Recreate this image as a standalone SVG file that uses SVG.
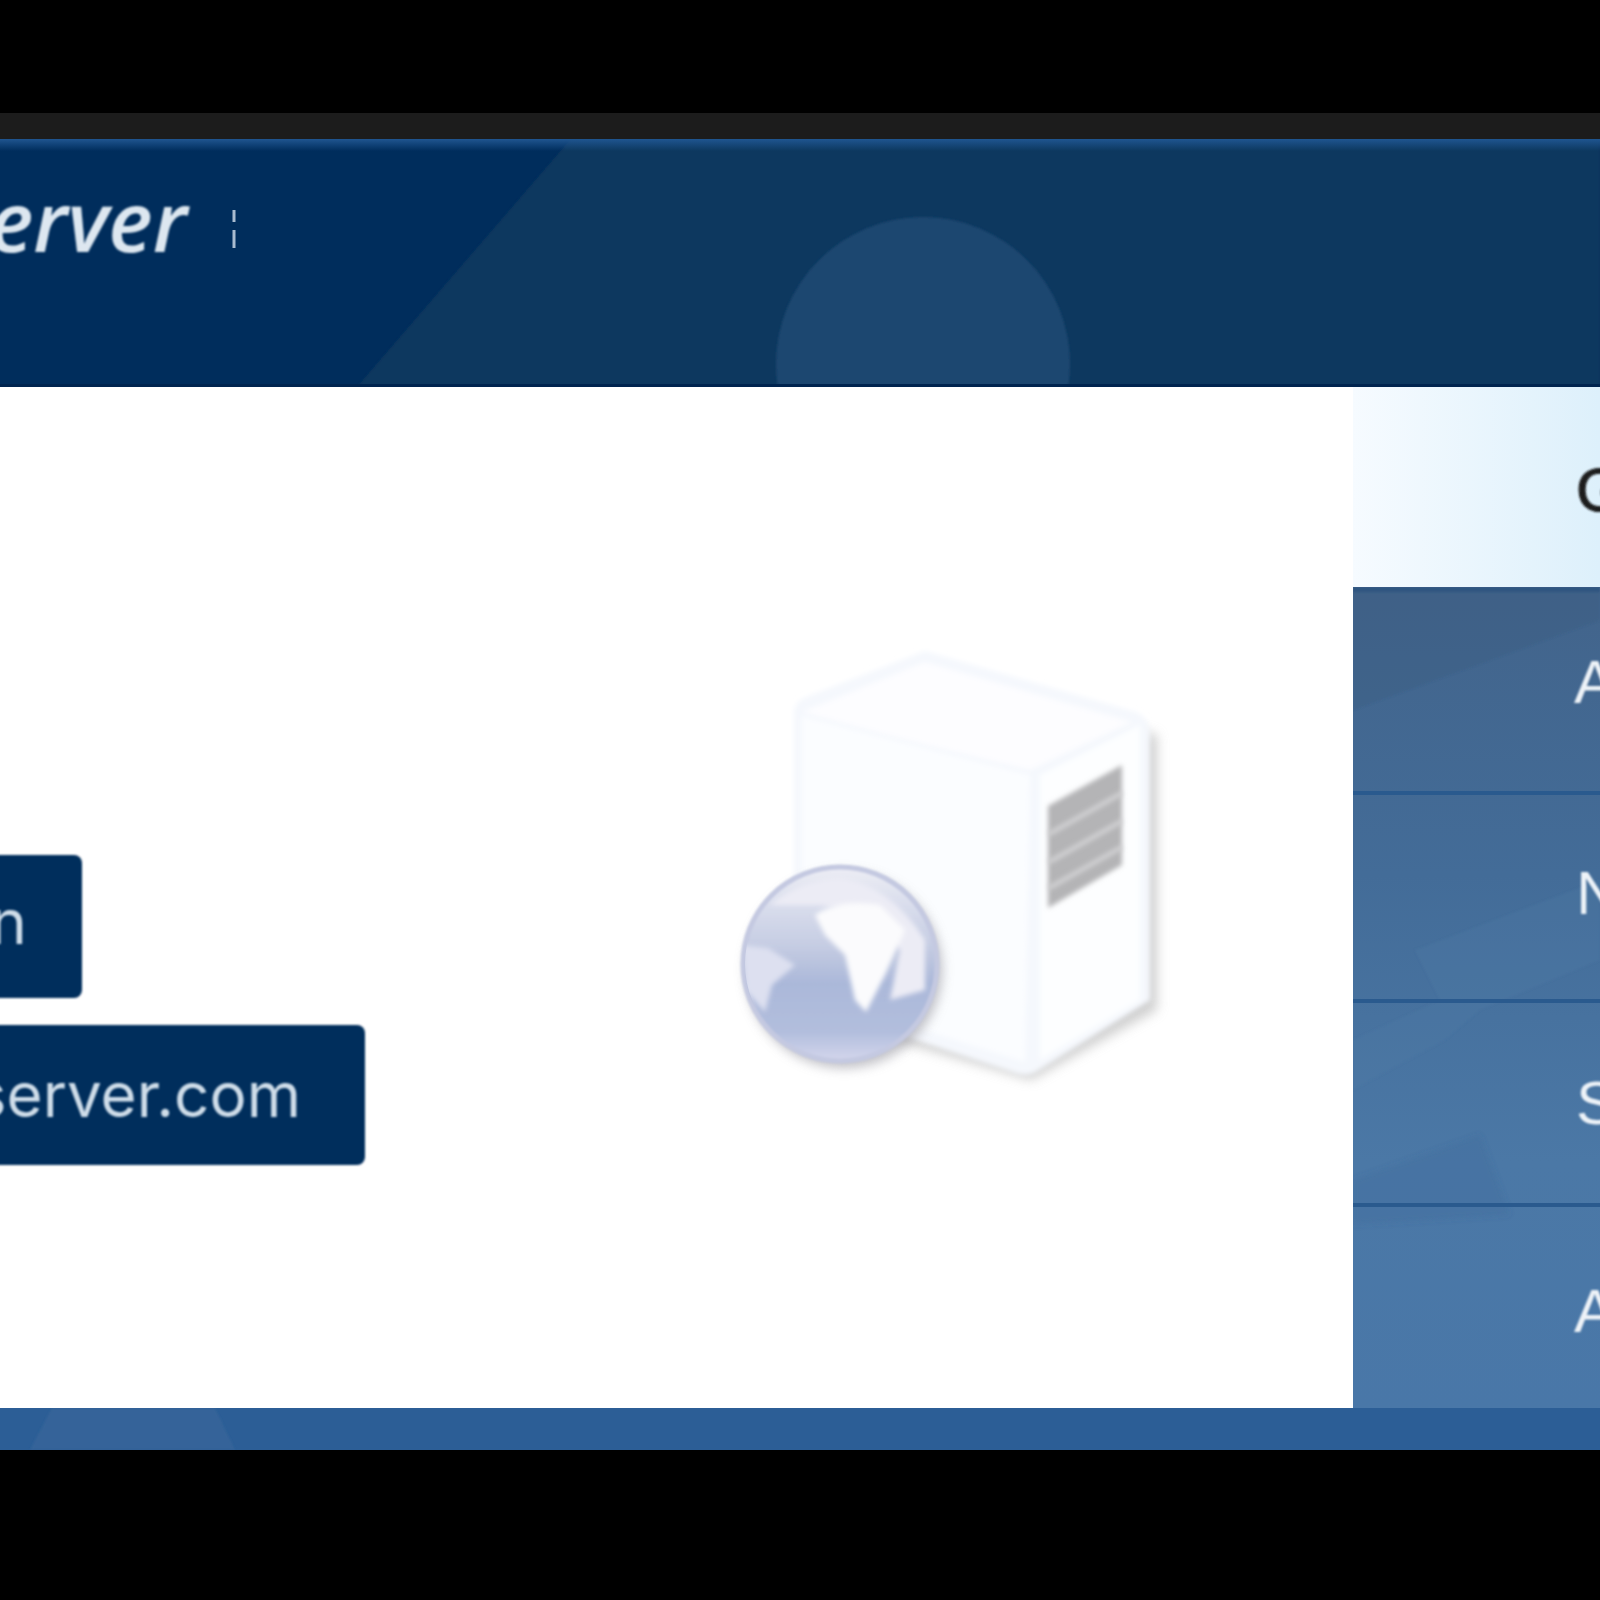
<svg xmlns="http://www.w3.org/2000/svg" width="1600" height="1600" viewBox="0 0 1600 1600">
<style>
.side{font-family:"Liberation Sans",sans-serif;font-size:62px;filter:url(#bt)}
.light{fill:#eef3f8}
.btn{fill:#002d5c}
.btxt{font-family:"Inter","Liberation Sans",sans-serif;font-size:62px;fill:#cfdde9;filter:url(#bt)}
.div{fill:#2a5a8e}
</style>
<defs>
<linearGradient id="lightRow" x1="0" x2="1" y1="0" y2="0"><stop offset="0" stop-color="#f6fbff"/><stop offset="1" stop-color="#ddf0fb"/></linearGradient>
<linearGradient id="blueCol" x1="0" x2="0" y1="0" y2="1"><stop offset="0" stop-color="#42648b"/><stop offset=".35" stop-color="#436c98"/><stop offset=".7" stop-color="#4b78a6"/><stop offset="1" stop-color="#4977a8"/></linearGradient>
<linearGradient id="hdrTop" x1="0" x2="0" y1="0" y2="1"><stop offset="0" stop-color="#1f5590"/><stop offset="1" stop-color="#1f5590" stop-opacity="0"/></linearGradient>
<linearGradient id="globeG" x1="0" x2="0" y1="0" y2="1"><stop offset="0" stop-color="#ecedf5"/><stop offset=".4" stop-color="#c6cde3"/><stop offset=".6" stop-color="#abb8d9"/><stop offset=".85" stop-color="#b2bedd"/><stop offset="1" stop-color="#d4d6ec"/></linearGradient>
<filter id="bt" x="-10%" y="-10%" width="120%" height="120%"><feGaussianBlur stdDeviation="0.9"/></filter>
<filter id="b1" x="-20%" y="-20%" width="140%" height="140%"><feGaussianBlur stdDeviation="2.5"/></filter>
<filter id="b3" x="-20%" y="-20%" width="140%" height="140%"><feGaussianBlur stdDeviation="6"/></filter>
<clipPath id="hdr"><rect x="0" y="139" width="1600" height="248"/></clipPath>
<clipPath id="globeClip"><circle cx="840" cy="964" r="95"/></clipPath>
<clipPath id="sideClip"><rect x="1353" y="587" width="247" height="821"/></clipPath>
<clipPath id="footClip"><rect x="0" y="1408" width="1600" height="42"/></clipPath>
</defs>
<rect width="1600" height="1600" fill="#000"/>
<rect y="113" width="1600" height="26" fill="#1c1c1c"/>
<g id="header">
<rect y="139" width="1600" height="248" fill="#002d5c"/>
<g clip-path="url(#hdr)">
<path d="M357 387L571 139H1600V387Z" fill="#10375f" filter="url(#bt)"/>
<circle cx="923" cy="364" r="147" fill="#1e4670" filter="url(#bt)"/>
</g>
<rect y="139" width="1600" height="12" fill="url(#hdrTop)"/>
<rect y="384" width="1600" height="3" fill="#00244f"/>
<text x="187" y="252" text-anchor="end" font-family="Open Sans, Noto Sans, sans-serif" font-style="italic" font-weight="600" font-size="84" fill="#dde7f0" filter="url(#bt)">erver</text>
<rect x="232.500" y="210" width="3" height="12" fill="#a9bcd0"/>
<rect x="232.500" y="230" width="3" height="18" fill="#a9bcd0"/>
</g>
<rect id="content" y="387" width="1353" height="1021" fill="#fff"/>
<g id="server-icon">
<path d="M812 1016L1031 1080L1157 1010V735L1100 720L1100 1000Z" fill="#bcbcbc" filter="url(#b3)" opacity=".7"/>
<path d="M794 712Q794 702 806 697L925 651L1136 712Q1150 718 1150 734V1000L1036 1072Q1026 1078 1012 1072L794 1000Z" fill="#f5f8fd" filter="url(#b1)"/>
<path d="M802 712L925 662L1132 722L1030 770Q900 740 802 712Z" fill="#fdfdff" filter="url(#b1)"/>
<path d="M802 716L1030 775L1025 1062L802 992Z" fill="#fbfdff" filter="url(#b1)"/>
<path d="M1040 775L1140 725V1000L1040 1060Z" fill="#fdfeff" filter="url(#b1)"/>
<path d="M1048 806L1122 765V865L1048 908Z" fill="#b4b4b6" filter="url(#b1)"/>
<path d="M1049 834L1122 793M1049 862L1122 821M1049 888L1122 847" stroke="#d6d6d8" stroke-width="4" fill="none" filter="url(#b1)"/>
<circle cx="844" cy="970" r="98" fill="#a5a5ad" filter="url(#b3)" opacity=".7"/>
<circle cx="840" cy="964" r="97" fill="url(#globeG)" stroke="#c4c9e1" stroke-width="5" filter="url(#bt)"/>
<g clip-path="url(#globeClip)">
<path d="M770 905Q800 880 840 878Q890 885 925 940L925 990L890 1000L900 950L870 915L820 905Z" fill="#ececf5" filter="url(#b1)"/>
<path d="M815 915Q840 898 880 905L905 930L885 975L866 1012L855 1000L845 955L825 935Z" fill="#fbfbfd" filter="url(#b1)"/>
<path d="M742 945L768 948L795 965L772 985L765 1012L745 990Z" fill="#dde0f0" filter="url(#b1)"/>
</g>
</g>
<g id="button-1">
<rect x="-20" y="855" width="102" height="143" rx="8" class="btn" filter="url(#bt)"/>
<text x="27" y="944" text-anchor="end" class="btxt">n</text>
</g>
<g id="button-2">
<rect x="-20" y="1025" width="385" height="140" rx="8" class="btn" filter="url(#bt)"/>
<text x="301" y="1117" text-anchor="end" class="btxt">server.com</text>
</g>
<g id="sidebar">
<rect x="1353" y="387" width="247" height="200" fill="url(#lightRow)"/>
<rect x="1353" y="587" width="247" height="821" fill="url(#blueCol)"/>
<g clip-path="url(#sideClip)" filter="url(#bt)">
<path d="M1353 710L1600 620V587H1353Z" fill="#38597f" opacity=".3"/>
<path d="M1353 587H1600V592H1353Z" fill="#2f5580"/>
<path d="M1415 950L1600 880V960L1480 1010L1445 1040L1353 1090V1040L1440 1000Z" fill="#517aa6" opacity=".3"/>
<path d="M1353 1180L1480 1135L1510 1215L1353 1225Z" fill="#3f6b9b" opacity=".3" filter="url(#b1)"/>
</g>
<rect x="1353" y="791" width="247" height="4" class="div"/>
<rect x="1353" y="999" width="247" height="4" class="div"/>
<rect x="1353" y="1203" width="247" height="4" class="div"/>
<text x="1576" y="511" class="side" fill="#1a1a1a" stroke="#1a1a1a" stroke-width="1.200">G</text>
<text x="1574" y="703" class="side light">A</text>
<text x="1576" y="914" class="side light">N</text>
<text x="1576" y="1124" class="side light">S</text>
<text x="1574" y="1332" class="side light">A</text>
</g>
<g id="footer" clip-path="url(#footClip)">
<rect y="1408" width="1600" height="42" fill="#2c5e96"/>
<path d="M30 1450L52 1408H215L235 1450Z" fill="#346499" filter="url(#bt)"/>
</g>
</svg>
